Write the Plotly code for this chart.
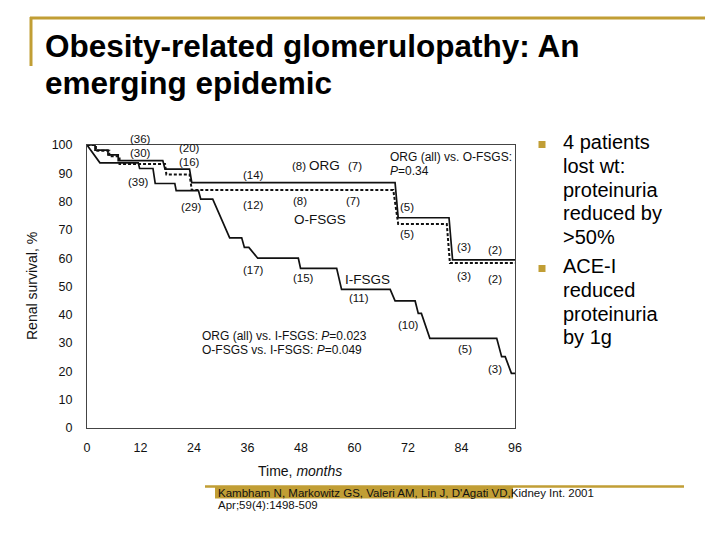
import plotly.graph_objects as go

# ---------------- data ----------------
org_t = [0, 1.8, 1.8, 4.7, 4.7, 7.0, 7.0, 17.0, 17.5, 23.0, 23.5, 69.1, 69.8, 81.2, 82.0, 96]
org_s = [100, 100, 98.2, 98.2, 96.5, 96.5, 94.5, 94.5, 91.5, 91.5, 86.7, 86.7, 74.3, 74.3, 59.4, 59.4]

ofsgs_t = [0, 2.0, 2.0, 5.0, 5.0, 7.3, 7.3, 17.5, 17.8, 23.0, 23.5, 68.7, 69.8, 80.7, 81.4, 96]
ofsgs_s = [100, 100, 98.0, 98.0, 96.0, 96.0, 93.3, 93.3, 89.6, 89.6, 84.1, 84.1, 72.1, 72.1, 58.3, 58.3]

ifsgs_t = [0, 2.9, 11.5, 11.8, 14.8, 15.3, 19.7, 20.0, 25.0, 25.5, 28.2, 32.0, 34.7, 35.3, 36.3, 38.3,
           47.4, 47.9, 56.0, 57.1, 68.0, 69.1, 73.6, 74.3, 75.0, 76.9, 91.9, 93.0, 93.8, 95.2, 96]
ifsgs_s = [100, 93.7, 93.7, 91.7, 91.7, 86.4, 86.4, 83.9, 83.9, 80.9, 80.9, 67.2, 67.2, 63.8, 63.8, 60.0,
           60.0, 56.4, 56.4, 49.0, 49.0, 44.9, 44.9, 40.5, 40.5, 31.7, 31.7, 25.2, 25.2, 19.3, 19.3]

risk_text = ["(36)", "(30)", "(39)", "(20)", "(16)", "(29)", "(14)", "(12)", "(17)",
             "(8)", "(7)", "(8)", "(7)", "(15)", "(11)", "(5)", "(5)", "(10)",
             "(3)", "(2)", "(3)", "(2)", "(5)", "(3)"]
risk_x = [11.9, 11.9, 11.5, 23.1, 23.1, 23.5, 37.3, 37.3, 37.3,
          47.6, 60.1, 47.8, 59.7, 48.5, 60.9, 71.7, 71.7, 72.1,
          84.6, 91.5, 84.6, 91.5, 84.8, 91.6]
risk_y = [102.0, 97.1, 87.0, 98.9, 94.1, 78.2, 89.4, 78.8, 55.8,
          92.6, 92.6, 80.2, 80.2, 52.9, 45.8, 78.2, 68.5, 36.4,
          63.8, 62.9, 53.8, 52.6, 27.8, 20.8]

group_text = ["ORG", "O-FSGS", "I-FSGS"]
group_x = [53.2, 52.3, 62.9]
group_y = [92.9, 73.7, 52.6]

pval_text = ["ORG (all) vs. O-FSGS:", "<i>P</i>=0.34",
             "ORG (all) vs. I-FSGS: <i>P</i>=0.023", "O-FSGS vs. I-FSGS: <i>P</i>=0.049"]
pval_x = [67.6, 67.6, 25.3, 25.3]
pval_y = [95.9, 90.7, 32.5, 27.6]

x_ticks = [0, 12, 24, 36, 48, 60, 72, 84, 96]
y_ticks = [0, 10, 20, 30, 40, 50, 60, 70, 80, 90, 100]

title_lines = ["Obesity-related glomerulopathy: An", "emerging epidemic"]
bullet1 = ["4 patients", "lost wt:", "proteinuria", "reduced by", ">50%"]
bullet2 = ["ACE-I", "reduced", "proteinuria", "by 1g"]
ref_names = "Kambham N, Markowitz GS, Valeri AM, Lin J, D'Agati VD"
ref_rest = ",Kidney Int. 2001"
ref_line2 = "Apr;59(4):1498-509"

# ---------------- layout helpers ----------------
W, H = 720, 540
GOLD = "#C19E35"
FONT = "Liberation Sans, Arial, Helvetica, sans-serif"
Y_TOP_PX, Y_BOT_PX = 145, 428
PX_PER_PCT = (Y_BOT_PX - Y_TOP_PX) / 100.0


def px(x):
    return x / W


def py(y):
    return 1 - y / H


fig = go.Figure()
fig.add_trace(go.Scatter(x=org_t, y=org_s, mode="lines", line=dict(color="#111", width=1.7),
                         showlegend=False, hoverinfo="skip"))
fig.add_trace(go.Scatter(x=ofsgs_t, y=ofsgs_s, mode="lines",
                         line=dict(color="#111", width=2.0, dash="3px,2px"),
                         showlegend=False, hoverinfo="skip"))
fig.add_trace(go.Scatter(x=ifsgs_t, y=ifsgs_s, mode="lines", line=dict(color="#111", width=1.7),
                         showlegend=False, hoverinfo="skip"))

ann = []
for t, x, y in zip(risk_text, risk_x, risk_y):
    yc = min(y, 100)
    ann.append(dict(x=x, y=yc, xref="x", yref="y", text=t, showarrow=False,
                    xanchor="center", yanchor="middle", yshift=(y - yc) * PX_PER_PCT,
                    font=dict(family=FONT, size=11.5, color="#111")))
for t, x, y in zip(group_text, group_x, group_y):
    ann.append(dict(x=x, y=y, xref="x", yref="y", text=t, showarrow=False,
                    xanchor="center", yanchor="middle",
                    font=dict(family=FONT, size=13.5, color="#111")))
for t, x, y in zip(pval_text, pval_x, pval_y):
    ann.append(dict(x=x, y=y, xref="x", yref="y", text=t, showarrow=False, xanchor="left",
                    yanchor="middle", font=dict(family=FONT, size=12, color="#111")))

# axis titles
ann.append(dict(x=px(32), y=py(286), xref="paper", yref="paper", text="Renal survival, %",
                textangle=-90, showarrow=False, xanchor="center", yanchor="middle",
                font=dict(family=FONT, size=14, color="#111")))
ann.append(dict(x=px(300), y=py(471), xref="paper", yref="paper", text="Time, <i>months</i>",
                showarrow=False, xanchor="center", yanchor="middle",
                font=dict(family=FONT, size=14, color="#111")))

# slide title
for i, t in enumerate(title_lines):
    ann.append(dict(x=px(43), y=py(46 + 37 * i), xref="paper", yref="paper", text="<b>" + t + "</b>",
                    xanchor="left", yanchor="middle", showarrow=False,
                    font=dict(family=FONT, size=31.5, color="#000")))

# bullets
for i, t in enumerate(bullet1):
    ann.append(dict(x=px(561), y=py(142 + 23.8 * i), xref="paper", yref="paper", text=t,
                    xanchor="left", yanchor="middle", showarrow=False,
                    font=dict(family=FONT, size=20, color="#000")))
for i, t in enumerate(bullet2):
    ann.append(dict(x=px(561), y=py(266 + 23.8 * i), xref="paper", yref="paper", text=t,
                    xanchor="left", yanchor="middle", showarrow=False,
                    font=dict(family=FONT, size=20, color="#000")))

# reference
ann.append(dict(x=px(216), y=py(493), xref="paper", yref="paper", text=ref_names + ref_rest,
                xanchor="left", yanchor="middle", showarrow=False,
                font=dict(family=FONT, size=11.5, color="#111")))
ann.append(dict(x=px(216), y=py(505), xref="paper", yref="paper", text=ref_line2,
                xanchor="left", yanchor="middle", showarrow=False,
                font=dict(family=FONT, size=11.5, color="#111")))

shapes = [
    # gold frame lines
    dict(type="line", xref="paper", yref="paper", x0=px(30), x1=px(705), y0=py(18), y1=py(18),
         line=dict(color=GOLD, width=3)),
    dict(type="line", xref="paper", yref="paper", x0=px(31), x1=px(31), y0=py(17), y1=py(66),
         line=dict(color=GOLD, width=3)),
    dict(type="line", xref="paper", yref="paper", x0=px(205), x1=px(684), y0=py(486.5), y1=py(486.5),
         line=dict(color=GOLD, width=2.5)),
    # highlight behind names
    dict(type="rect", xref="paper", yref="paper", x0=px(215), x1=px(513), y0=py(498.5), y1=py(487),
         fillcolor=GOLD, line=dict(width=0), layer="below"),
    # bullet squares
    dict(type="rect", xref="paper", yref="paper", x0=px(538.5), x1=px(545.5), y0=py(141), y1=py(148),
         fillcolor=GOLD, line=dict(width=0)),
    dict(type="rect", xref="paper", yref="paper", x0=px(538.5), x1=px(545.5), y0=py(265), y1=py(272),
         fillcolor=GOLD, line=dict(width=0)),
]

fig.update_layout(
    width=W, height=H, margin=dict(l=0, r=0, t=0, b=0, autoexpand=False),
    paper_bgcolor="white", plot_bgcolor="white",
    annotations=ann, shapes=shapes, showlegend=False,
    xaxis=dict(domain=[px(87), px(515)], range=[0, 96], tickvals=x_ticks,
               showgrid=False, zeroline=False, showline=True, linecolor="#444", linewidth=1,
               mirror=True, ticks="", ticklabelstandoff=8, automargin=False,
               tickfont=dict(family=FONT, size=12.5, color="#111")),
    yaxis=dict(domain=[py(Y_BOT_PX), py(Y_TOP_PX)], range=[0, 100], tickvals=y_ticks,
               showgrid=False, zeroline=False, showline=True, linecolor="#444", linewidth=1,
               mirror=True, ticks="", ticklabelstandoff=11, automargin=False,
               tickfont=dict(family=FONT, size=12.5, color="#111")),
)

fig.write_html("out.html")
